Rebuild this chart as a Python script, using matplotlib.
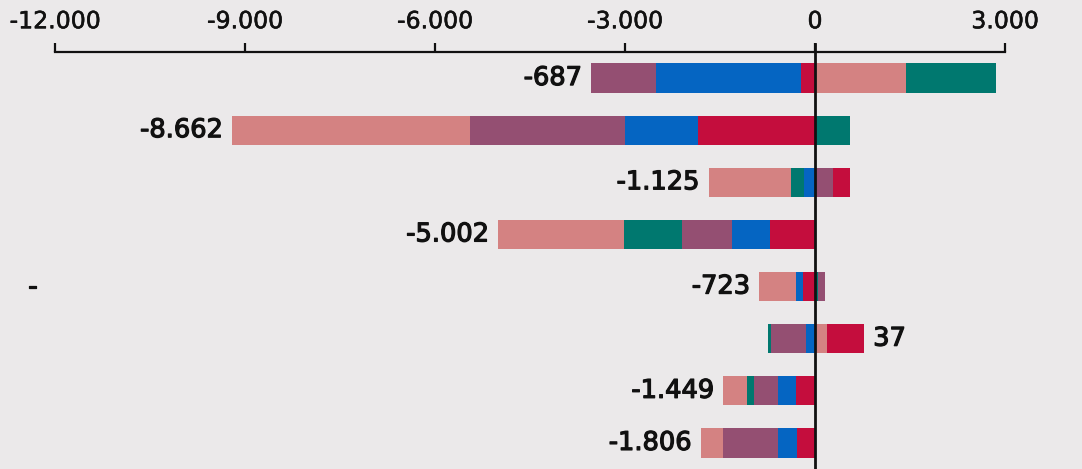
import numpy as np
import matplotlib.pyplot as plt
import matplotlib.patheffects as pe
from matplotlib.ticker import FuncFormatter

# series order = order of stacking on both sides of the zero line
series = ['pink', 'teal', 'purple', 'blue', 'red']
colors = ['#d48282', '#00786f', '#944f72', '#0565c2', '#c40d3d']

pink   = [1431, -3770, -1300, -1993, -580,  190, -371, -350]
teal   = [1420,   550,  -205,  -909,   42,  -47, -118,    0]
purple = [-1031, -2438,  287,  -796,  115, -553, -381, -878]
blue   = [-2282, -1164, -175,  -592, -115, -142, -272, -298]
red    = [-225, -1840,   268,  -712, -185,  589, -307, -280]

row_labels = ['', '', '', '', '-', '', '', '']

data = np.array([pink, teal, purple, blue, red], dtype=float)
totals = data.sum(axis=0)
y = np.arange(data.shape[1])

plt.rcParams['font.family'] = ['Liberation Sans Narrow', 'DejaVu Sans']

fig = plt.figure(figsize=(10.82, 4.69), dpi=100)
bg = '#ebe9ea'
ink = '#111111'
fig.patch.set_facecolor(bg)
ax = fig.add_axes([55 / 1082, 0, 950 / 1082, 417 / 469])
ax.set_facecolor(bg)

bar_h = 0.56
pos_left = np.zeros(len(y))
neg_left = np.zeros(len(y))
# positives stack outward from zero in series order
for vals, col in zip(data, colors):
    p = np.where(vals > 0, vals, 0)
    ax.barh(y, p, left=pos_left, height=bar_h, color=col, linewidth=0)
    pos_left += p
# negatives: last series sits next to zero
for vals, col in zip(data[::-1], colors[::-1]):
    n = np.where(vals < 0, vals, 0)
    ax.barh(y, n, left=neg_left, height=bar_h, color=col, linewidth=0)
    neg_left += n

def fmt(v, pos=None):
    return f"{int(round(v)):,}".replace(',', '.')

heavy = [pe.withStroke(linewidth=0.9, foreground=ink)]
light = [pe.withStroke(linewidth=0.4, foreground=ink)]

for i, t in enumerate(totals):
    if t < 0:
        ax.text(neg_left[i] - 140, y[i], fmt(t), ha='right', va='center',
                fontsize=18.5, color=ink, path_effects=heavy)
    else:
        ax.text(pos_left[i] + 140, y[i], fmt(t), ha='left', va='center',
                fontsize=18.5, color=ink, path_effects=heavy)

for i, lab in enumerate(row_labels):
    if lab:
        ax.text(-12350, y[i], lab, ha='center', va='center', fontsize=18,
                color=ink, path_effects=heavy)

ax.axvline(0, color=ink, lw=2, ymin=0, ymax=1.02, clip_on=False, zorder=5)

ax.set_xlim(-12000, 3000)
ax.set_ylim(7.5, -0.5)
ax.xaxis.tick_top()
ax.set_xticks([-12000, -9000, -6000, -3000, 0, 3000])
ax.xaxis.set_major_formatter(FuncFormatter(fmt))
ax.tick_params(axis='x', direction='out', length=6.5, width=1.6, color=ink,
               labelsize=17, pad=7, labelcolor=ink)
for lbl in ax.get_xticklabels():
    lbl.set_path_effects(light)
ax.set_yticks([])
for s in ['left', 'right', 'bottom']:
    ax.spines[s].set_visible(False)
ax.spines['top'].set_linewidth(1.6)
ax.spines['top'].set_color(ink)

fig.savefig('out.png', dpi=100, facecolor=bg)
